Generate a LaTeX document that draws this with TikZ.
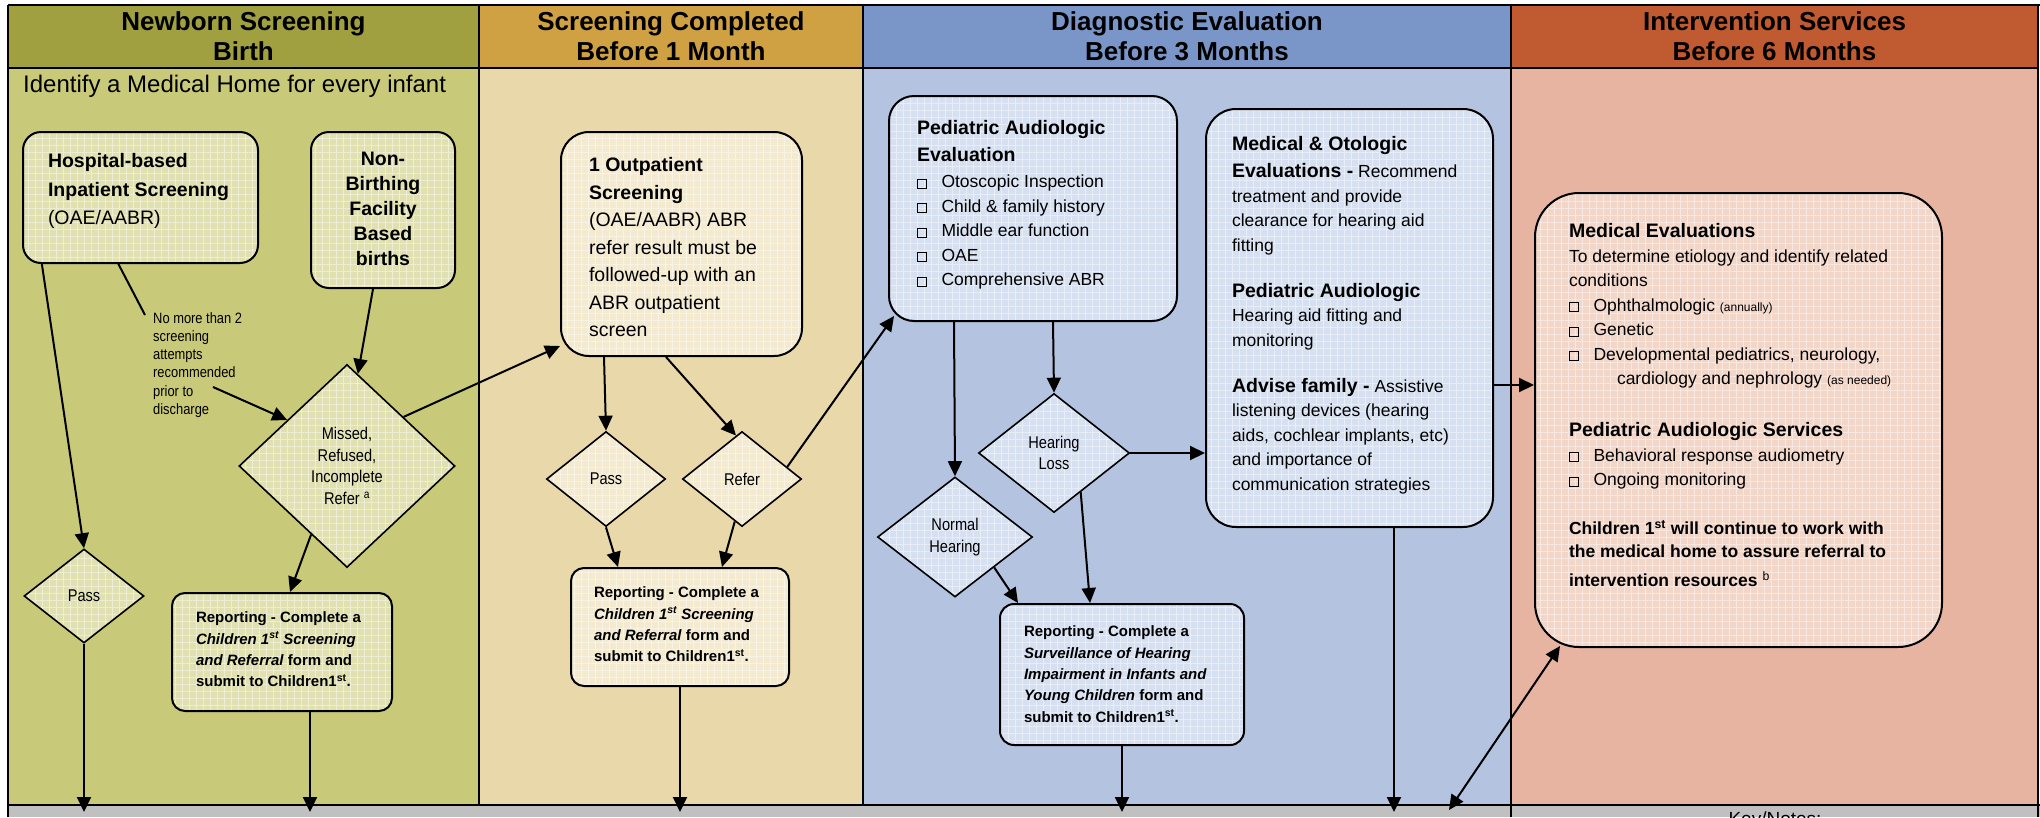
\documentclass[tikz,border=0pt]{standalone}
\usepackage{fontspec}
\setmainfont{Liberation Sans}
\newfontfamily\narrowfont{Liberation Sans}[FakeStretch=0.86]
\usetikzlibrary{arrows.meta,shapes.geometric,patterns.meta,calc}
\definecolor{hdrA}{RGB}{160,160,64}
\definecolor{hdrB}{RGB}{207,161,66}
\definecolor{hdrC}{RGB}{122,150,200}
\definecolor{hdrD}{RGB}{192,90,48}
\definecolor{bodyA}{RGB}{201,201,122}
\definecolor{bodyB}{RGB}{232,216,170}
\definecolor{bodyC}{RGB}{180,196,224}
\definecolor{bodyD}{RGB}{230,180,160}
\definecolor{boxA}{RGB}{224,224,176}
\definecolor{boxB}{RGB}{243,234,208}
\definecolor{boxC}{RGB}{214,224,240}
\definecolor{boxD}{RGB}{242,214,200}
\definecolor{barc}{RGB}{192,192,192}
\newcommand{\boxtext}[4]{\parbox[c][#2pt][t]{#1pt}{\vspace*{#3pt}\raggedright#4}}
\newcommand{\chk}{\makebox[24.5pt][l]{\fboxsep=0pt\fboxrule=0.5pt\fbox{\rule{0pt}{8.8pt}\rule{8.8pt}{0pt}}}}
\tikzset{
  gridfill/.style={preaction={fill=#1}, pattern={Hatch[distance=7pt,angle=0,line width=0.5pt]}, pattern color=#1!55!white},
  card/.style={draw, line width=2pt, inner sep=0pt, gridfill=#1},
  dmd/.style={diamond, draw, line width=1.6pt, inner sep=0pt, align=center, gridfill=#1,
    font=\narrowfont\fontsize{17}{21.5}\selectfont},
  hdr/.style={minimum height=63pt, inner sep=0pt, align=center, font=\bfseries\fontsize{26}{30}\selectfont},
  arr/.style={-{Triangle[length=15pt,width=14pt]}, line width=2pt},
  dblarr/.style={{Triangle[length=15pt,width=14pt]}-{Triangle[length=15pt,width=14pt]}, line width=2pt},
  border/.style={line width=2.5pt}
}
\begin{document}
\begin{tikzpicture}[x=1pt,y=-1pt]
  \useasboundingbox (0,0) rectangle (2040,817);
  \fill[white] (0,0) rectangle (2040,817);
  \fill[bodyA] (8,68) rectangle (479,805);
  \fill[bodyB] (479,68) rectangle (863,805);
  \fill[bodyC] (863,68) rectangle (1511,805);
  \fill[bodyD] (1511,68) rectangle (2038,805);
  \fill[barc] (8,805) rectangle (2040,817);

  \node[hdr, fill=hdrA, minimum width=471pt] (hA) at (243.5,36.5) {Newborn Screening\\Birth};
  \node[hdr, fill=hdrB, minimum width=384pt] (hB) at (671,36.5) {Screening Completed\\Before 1 Month};
  \node[hdr, fill=hdrC, minimum width=648pt] (hC) at (1187,36.5) {Diagnostic Evaluation\\Before 3 Months};
  \node[hdr, fill=hdrD, minimum width=527pt] (hD) at (1774.5,36.5) {Intervention Services\\Before 6 Months};

  \draw[border] (8,5) -- (2040,5);
  \draw[border] (8,68) -- (2038,68);
  \draw[border] (8,805) -- (2040,805);
  \draw[border] (8,5) -- (8,817);
  \draw[border] (479,5) -- (479,805);
  \draw[border] (863,5) -- (863,805);
  \draw[border] (1511,5) -- (1511,817);
  \draw[border] (2038,5) -- (2038,817);

  \node[anchor=base west, inner sep=0pt, font=\fontsize{24}{28}\selectfont] (medhome) at (23,92)
    {Identify a Medical Home for every infant};
  \node[anchor=north, inner sep=0pt, font=\fontsize{19}{22}\selectfont] (keynote) at (1775,812) {Key/Notes:};

  \node[card=boxA, rounded corners=18pt, minimum width=235pt, minimum height=131pt,
    font=\fontsize{19.5}{28.5}\selectfont] (hosp) at (140.5,197.5)
    {\boxtext{185}{131}{21.8}{\textbf{Hospital-based}\\ \textbf{Inpatient Screening}\\ (OAE/AABR)}};
  \node[card=boxA, rounded corners=18pt, minimum width=144pt, minimum height=156pt,
    font=\bfseries\fontsize{19.5}{25}\selectfont] (nonbirth) at (383,210)
    {\boxtext{134}{156}{19.8}{\centering Non-\\ Birthing\\ Facility\\ Based\\ births}};
  \node[anchor=north west, inner sep=0pt, align=left, font=\narrowfont\fontsize{15}{18.3}\selectfont] (note) at (153,312)
    {No more than 2\\ screening\\ attempts\\ recommended\\ prior to\\ discharge};
  \node[dmd=boxA, minimum width=216pt, minimum height=203pt] (miss) at (347,466)
    {Missed,\\ Refused,\\ Incomplete\\ Refer \textsuperscript{a}};
  \node[dmd=boxA, minimum width=120pt, minimum height=94pt] (pass1) at (84,596) {Pass};
  \node[card=boxA, rounded corners=13pt, minimum width=220pt, minimum height=118pt,
    font=\bfseries\fontsize{15}{21.3}\selectfont] (rep1) at (282,652)
    {\boxtext{172}{118}{19}{Reporting - Complete a\\ \textit{Children 1\textsuperscript{st} Screening}\\
      \textit{and Referral} form and\\ submit to Children1\textsuperscript{st}.}};

  \node[card=boxB, rounded corners=28pt, minimum width=241pt, minimum height=224pt,
    font=\fontsize{19.5}{27.5}\selectfont] (outp) at (681.5,244)
    {\boxtext{185}{224}{25.8}{\textbf{1 Outpatient}\\ \textbf{Screening}\\ (OAE/AABR) ABR\\
      refer result must be\\ followed-up with an\\ ABR outpatient\\ screen}};
  \node[dmd=boxB, minimum width=119pt, minimum height=95pt] (pass2) at (606,479) {Pass};
  \node[dmd=boxB, minimum width=119pt, minimum height=95pt] (ref2) at (742,479) {Refer};
  \node[card=boxB, rounded corners=13pt, minimum width=218pt, minimum height=118pt,
    font=\bfseries\fontsize{15}{21.3}\selectfont] (rep2) at (680,627)
    {\boxtext{172}{118}{19}{Reporting - Complete a\\ \textit{Children 1\textsuperscript{st} Screening}\\
      \textit{and Referral} form and\\ submit to Children1\textsuperscript{st}.}};

  \node[card=boxC, rounded corners=25pt, minimum width=288pt, minimum height=225pt,
    font=\fontsize{17.5}{24.5}\selectfont] (pae) at (1033,208.5)
    {\boxtext{232}{225}{24.8}{{\bfseries\fontsize{19.5}{24.5}\selectfont Pediatric Audiologic}\\[2.5pt]
      {\bfseries\fontsize{19.5}{24.5}\selectfont Evaluation}\\[1.5pt]
      \chk Otoscopic Inspection\\ \chk Child \& family history\\ \chk Middle ear function\\
      \chk OAE\\ \chk Comprehensive ABR}};
  \node[dmd=boxC, minimum width=151pt, minimum height=119pt] (hl) at (1054,453) {Hearing\\ Loss};
  \node[dmd=boxC, minimum width=155pt, minimum height=120pt] (nh) at (955,537) {Normal\\ Hearing};
  \node[card=boxC, rounded corners=14pt, minimum width=244pt, minimum height=141pt,
    font=\bfseries\fontsize{15}{21.3}\selectfont] (rep3) at (1122,674.5)
    {\boxtext{196}{141}{22}{Reporting - Complete a\\ \textit{Surveillance of Hearing}\\
      \textit{Impairment in Infants and}\\ \textit{Young Children} form and\\
      submit to Children1\textsuperscript{st}.}};
  \node[card=boxC, rounded corners=30pt, minimum width=287pt, minimum height=418pt,
    font=\fontsize{17.5}{24.5}\selectfont] (medoto) at (1349.5,318)
    {\boxtext{235}{418}{27.8}{{\bfseries\fontsize{19.5}{24.5}\selectfont Medical \& Otologic}\\[2.5pt]
      {\bfseries\fontsize{19.5}{24.5}\selectfont Evaluations -} Recommend\\
      treatment and provide\\ clearance for hearing aid\\ fitting\\[21.5pt]
      {\bfseries\fontsize{19.5}{24.5}\selectfont Pediatric Audiologic}\\
      Hearing aid fitting and\\ monitoring\\[21.5pt]
      {\bfseries\fontsize{19.5}{24.5}\selectfont Advise family -} Assistive\\
      listening devices (hearing\\ aids, cochlear implants, etc)\\
      and importance of\\ communication strategies}};

  \node[card=boxD, rounded corners=44pt, minimum width=407pt, minimum height=454pt,
    font=\fontsize{17.5}{24.5}\selectfont] (medev) at (1738.5,420)
    {\boxtext{339}{454}{30.8}{{\bfseries\fontsize{19.5}{24.5}\selectfont Medical Evaluations}\\
      To determine etiology and identify related\\ conditions\\
      \chk Ophthalmologic {\fontsize{12}{14}\selectfont (annually)}\\ \chk Genetic\\
      \chk Developmental pediatrics, neurology,\\
      \hspace*{48pt}cardiology and nephrology {\fontsize{12}{14}\selectfont (as needed)}\\[27.5pt]
      {\bfseries\fontsize{19.5}{24.5}\selectfont Pediatric Audiologic Services}\\
      \chk Behavioral response audiometry\\ \chk Ongoing monitoring\\[24.5pt]
      \textbf{Children 1\textsuperscript{st} will continue to work with}\\[-1.5pt]
      \textbf{the medical home to assure referral to}\\[4.5pt]
      \textbf{intervention resources} \textsuperscript{b}}};

  \coordinate (b1) at (84,812);
  \coordinate (b2) at (310,812);
  \coordinate (b3) at (680,812);
  \coordinate (b4) at (1122,812);
  \coordinate (b5) at (1394,812);
  \coordinate (b6) at (1449,810);
  \coordinate (m1) at ([yshift=-67pt]medoto.east);

  \draw[line width=2pt] ([xshift=-22.5pt]hosp.south) to ([xshift=-8pt,yshift=-3pt]note.north west);
  \begin{scope}[arr]
    \draw ([xshift=19pt]hosp.south west) to (pass1.north);
    \draw (pass1.south) to (b1);
    \draw ([xshift=-10pt]nonbirth.south) to ($(miss.north)!0.1!(miss.east)$);
    \draw ([xshift=60pt,yshift=-75pt]note.north west) to ($(miss.north)!0.55!(miss.west)$);
    \draw ($(miss.north)!0.52!(miss.east)$) to ([yshift=11pt]outp.south west);
    \draw ($(miss.south)!0.33!(miss.west)$) to ([xshift=8pt]rep1.north);
    \draw ([xshift=28pt]rep1.south) to (b2);
    \draw ([xshift=44pt]outp.south west) to (pass2.north);
    \draw ([xshift=106pt]outp.south west) to ($(ref2.north)!0.1!(ref2.west)$);
    \draw (pass2.south) to ([xshift=-62pt]rep2.north);
    \draw ($(ref2.south)!0.12!(ref2.west)$) to ([xshift=42pt]rep2.north);
    \draw (rep2.south) to (b3);
    \draw ($(ref2.east)!0.25!(ref2.north)$) to ($(pae.south west)+(6,-6)$);
    \draw ([xshift=66pt]pae.south west) to (nh.north);
    \draw ([xshift=165pt]pae.south west) to (hl.north);
    \draw (hl.east) to (hl.east -| medoto.west);
    \draw ($(nh.east)!0.5!(nh.south)$) to ([xshift=-104pt]rep3.north);
    \draw ($(hl.south)!0.35!(hl.east)$) to ([xshift=-32pt]rep3.north);
    \draw (rep3.south) to (b4);
    \draw ([xshift=44.5pt]medoto.south) to (b5);
    \draw (m1) to (m1 -| medev.west);
  \end{scope}
  \draw[dblarr] (b6) to ([xshift=26pt,yshift=2pt]medev.south west);
\end{tikzpicture}
\end{document}
